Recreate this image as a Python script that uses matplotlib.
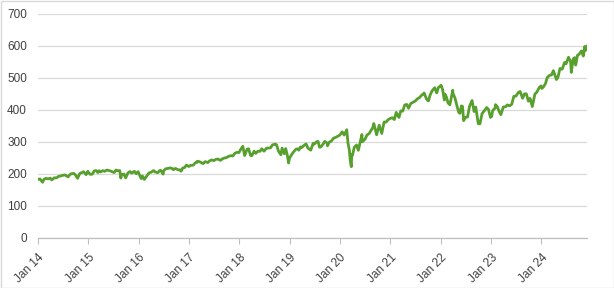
import matplotlib
matplotlib.use("Agg")
import matplotlib.pyplot as plt
import matplotlib.transforms as mtransforms
import pandas as pd
from matplotlib.patches import Rectangle

dates = [
 "2014-01-02","2014-01-15","2014-02-03","2014-02-14","2014-02-28","2014-03-14","2014-03-31","2014-04-11","2014-04-30","2014-05-15","2014-05-30","2014-06-13","2014-06-30","2014-07-15","2014-07-31","2014-08-07","2014-08-15","2014-08-29","2014-09-18","2014-09-30","2014-10-15","2014-10-31","2014-11-14","2014-11-28","2014-12-16","2014-12-29","2014-12-31",
 "2015-01-15","2015-01-30","2015-02-13","2015-02-27","2015-03-11","2015-03-20","2015-03-31","2015-04-15","2015-04-30","2015-05-15","2015-05-29","2015-06-12","2015-06-30","2015-07-08","2015-07-20","2015-07-31","2015-08-17","2015-08-25","2015-08-31","2015-09-17","2015-09-29","2015-10-15","2015-10-30","2015-11-13","2015-11-30","2015-12-14","2015-12-29","2015-12-31",
 "2016-01-15","2016-01-20","2016-01-29","2016-02-11","2016-02-29","2016-03-15","2016-03-31","2016-04-20","2016-04-29","2016-05-19","2016-05-31","2016-06-08","2016-06-27","2016-06-30","2016-07-15","2016-07-29","2016-08-15","2016-08-31","2016-09-09","2016-09-22","2016-09-30","2016-10-14","2016-10-31","2016-11-04","2016-11-15","2016-11-30","2016-12-13","2016-12-30",
 "2017-01-13","2017-01-31","2017-02-15","2017-02-28","2017-03-01","2017-03-15","2017-03-31","2017-04-13","2017-04-28","2017-05-17","2017-05-31","2017-06-15","2017-06-30","2017-07-14","2017-07-31","2017-08-10","2017-08-18","2017-08-31","2017-09-15","2017-09-29","2017-10-13","2017-10-31","2017-11-15","2017-11-30","2017-12-15","2017-12-29",
 "2018-01-12","2018-01-26","2018-02-08","2018-02-26","2018-03-09","2018-03-23","2018-04-02","2018-04-18","2018-04-30","2018-05-15","2018-05-31","2018-06-12","2018-06-29","2018-07-16","2018-07-31","2018-08-15","2018-08-29","2018-09-20","2018-09-28","2018-10-11","2018-10-29","2018-11-07","2018-11-23","2018-11-30","2018-12-03","2018-12-14","2018-12-24","2018-12-31",
 "2019-01-15","2019-01-31","2019-02-15","2019-02-28","2019-03-08","2019-03-21","2019-03-29","2019-04-15","2019-04-30","2019-05-13","2019-05-31","2019-06-03","2019-06-20","2019-06-28","2019-07-15","2019-07-26","2019-08-05","2019-08-15","2019-08-30","2019-09-12","2019-09-30","2019-10-02","2019-10-15","2019-10-31","2019-11-15","2019-11-29","2019-12-13","2019-12-31",
 "2020-01-17","2020-01-31","2020-02-19","2020-02-28","2020-03-09","2020-03-16","2020-03-23","2020-03-26","2020-03-31","2020-04-14","2020-04-30","2020-05-13","2020-05-29","2020-06-08","2020-06-11","2020-06-30","2020-07-15","2020-07-31","2020-08-14","2020-08-31","2020-09-02","2020-09-23","2020-09-30","2020-10-12","2020-10-30","2020-11-16","2020-11-30","2020-12-15","2020-12-31",
 "2021-01-15","2021-01-29","2021-02-12","2021-02-26","2021-03-04","2021-03-17","2021-03-31","2021-04-15","2021-04-30","2021-05-12","2021-05-28","2021-06-15","2021-06-30","2021-07-15","2021-07-30","2021-08-16","2021-08-31","2021-09-02","2021-09-20","2021-09-30","2021-10-04","2021-10-15","2021-10-29","2021-11-18","2021-11-30","2021-12-03","2021-12-15","2021-12-31",
 "2022-01-03","2022-01-14","2022-01-27","2022-01-31","2022-02-11","2022-02-23","2022-03-08","2022-03-29","2022-03-31","2022-04-14","2022-04-29","2022-05-12","2022-05-20","2022-05-31","2022-06-08","2022-06-16","2022-06-30","2022-07-14","2022-07-29","2022-08-16","2022-08-31","2022-09-12","2022-09-30","2022-10-12","2022-10-28","2022-11-15","2022-11-30","2022-12-13","2022-12-28","2022-12-30",
 "2023-01-05","2023-01-13","2023-01-31","2023-02-02","2023-02-15","2023-02-28","2023-03-13","2023-03-31","2023-04-18","2023-04-28","2023-05-15","2023-05-31","2023-06-15","2023-06-30","2023-07-19","2023-07-31","2023-08-18","2023-08-31","2023-09-14","2023-09-29","2023-10-11","2023-10-27","2023-11-15","2023-11-30","2023-12-15","2023-12-29",
 "2024-01-04","2024-01-16","2024-01-31","2024-02-12","2024-02-29","2024-03-15","2024-03-28","2024-04-19","2024-04-30","2024-05-15","2024-05-31","2024-06-17","2024-06-28","2024-07-16","2024-07-31","2024-08-05","2024-08-19","2024-08-30","2024-09-06","2024-09-19","2024-09-30","2024-10-18","2024-10-31","2024-11-11","2024-11-15","2024-11-22","2024-11-27",
]
prices = [
 182.9,184.7,174.2,184.0,186.3,184.7,187.0,181.5,188.3,187.8,192.7,193.5,196.0,197.2,193.0,191.0,195.7,200.7,201.9,197.0,186.4,201.7,204.2,207.2,197.9,208.7,205.5,
 199.0,199.5,209.8,210.7,204.5,210.4,206.4,210.4,208.5,212.4,211.1,209.1,205.9,204.5,212.5,210.5,210.6,187.3,197.7,200.0,187.7,203.1,207.9,202.5,208.7,201.0,207.4,203.9,
 190.5,185.6,193.7,182.9,193.6,202.8,205.5,210.9,206.3,204.2,209.8,212.0,199.6,209.5,216.4,217.1,219.0,217.4,213.3,217.2,216.3,213.1,212.6,208.6,218.3,220.4,227.8,223.5,
 227.0,227.5,234.9,236.5,239.8,238.9,235.7,232.5,238.7,235.8,241.4,243.8,241.8,245.6,246.8,243.8,242.7,247.5,250.0,251.2,254.9,257.2,256.4,265.0,267.7,266.9,
 278.0,286.6,257.6,277.7,278.9,258.0,257.5,271.4,264.5,271.1,270.9,278.9,271.3,280.5,281.3,281.8,291.0,293.6,290.7,272.2,259.9,281.0,263.3,275.7,279.3,260.5,234.3,249.9,
 260.4,270.0,277.4,278.7,274.5,284.7,282.5,289.5,294.0,280.9,275.3,274.6,295.9,293.0,300.7,302.0,283.8,284.4,292.5,302.0,296.8,288.0,299.3,303.3,311.8,314.3,317.3,321.9,
 331.9,321.7,338.3,296.3,274.2,239.9,222.9,261.2,257.8,283.8,290.5,274.0,304.3,323.2,300.6,308.4,321.9,326.5,336.8,349.3,357.7,322.6,334.9,352.4,326.5,362.6,362.1,369.6,373.9,
 375.7,370.1,392.6,380.4,376.7,397.3,396.3,415.9,417.3,405.4,420.0,424.5,428.1,434.8,438.5,446.6,451.6,453.2,434.0,429.1,428.6,445.9,459.3,469.7,455.6,453.4,470.6,475.0,
 477.7,464.7,431.2,449.9,440.5,421.9,416.3,461.6,451.6,437.8,412.0,392.3,389.6,412.9,411.2,366.7,377.3,377.9,411.9,429.7,395.2,409.0,357.2,356.6,389.0,398.5,407.7,402.0,376.7,382.4,
 379.4,398.5,406.5,416.8,410.8,396.3,385.4,409.4,410.4,415.9,413.0,417.9,442.6,443.3,455.2,457.8,436.5,450.4,450.4,427.5,436.3,410.7,449.7,456.4,469.3,475.3,
 467.3,472.3,482.9,501.0,508.1,509.8,523.1,495.2,502.0,529.8,527.4,548.5,544.2,564.9,550.8,517.4,559.6,563.7,540.4,571.0,573.8,584.6,568.6,598.8,585.8,595.5,598.8,
]
y_ticks = [0, 100, 200, 300, 400, 500, 600, 700]
x_tick_years = list(range(2014, 2025))

d = pd.to_datetime(dates)

fig = plt.figure(figsize=(6.14, 2.88), dpi=100)
ax = fig.add_axes([38/614, 1-238/288, (587-38)/614, (238-14)/288])
ax.plot(d, prices, color="#58A02E", lw=2.0, solid_joinstyle="round")

ax.set_ylim(0, 700)
ax.set_yticks(y_ticks)
ax.set_xlim(pd.Timestamp("2014-01-01"), d[-1])
xt = [pd.Timestamp(f"{y}-01-01") for y in x_tick_years]
ax.set_xticks(xt)
ax.set_xticklabels([f"Jan {str(y)[2:]}" for y in x_tick_years], rotation=45,
                   ha="right", va="top", rotation_mode="anchor")
offset = mtransforms.ScaledTranslation(4/100, 0, fig.dpi_scale_trans)
for lab in ax.get_xticklabels():
    lab.set_fontsize(8.5)
    lab.set_fontfamily("Liberation Sans")
    lab.set_transform(lab.get_transform() + offset)
ax.grid(axis="y", color="#D9D9D9", lw=0.9)
ax.set_axisbelow(True)
for s in ["top", "right", "left"]:
    ax.spines[s].set_visible(False)
ax.spines["bottom"].set_color("#BFBFBF")
ax.spines["bottom"].set_linewidth(0.9)
ax.tick_params(axis="x", length=4, color="#BFBFBF", labelcolor="#404040", pad=6)
ax.tick_params(axis="y", length=0, labelcolor="#404040", labelsize=8.5, pad=8)
for lab in ax.get_yticklabels():
    lab.set_fontfamily("Liberation Sans")

fig.patches.append(Rectangle((0.5/614, 0.5/288), 1-1/614, 1-1/288, transform=fig.transFigure,
                             fill=False, edgecolor="#D9D9D9", lw=1))
fig.savefig("out.png", dpi=100)
